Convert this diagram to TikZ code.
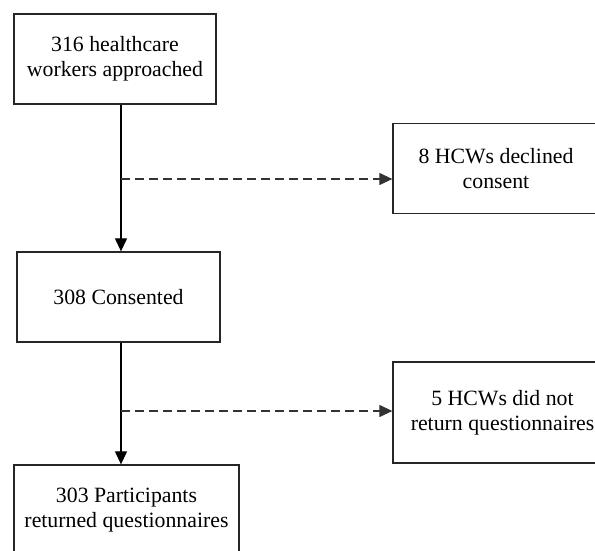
\documentclass[tikz,border=0pt]{standalone}
\usepackage{fontspec}
\setmainfont{Liberation Serif}
\usetikzlibrary{arrows.meta, positioning}

\begin{document}
\begin{tikzpicture}[
    x=1pt, y=-1pt,
    font=\fontsize{21.8}{25}\selectfont,
    box/.style={rectangle, draw=black!85, line width=1.3pt, fill=white,
                minimum width=#1, minimum height=90pt,
                align=center, inner sep=0pt},
    arr/.style={-{Triangle[length=13pt, width=12pt]}, line width=1.2pt},
    exc/.style={-{Triangle[length=13pt, width=12pt]}, line width=1.2pt,
                dash pattern=on 9pt off 5pt, black!80},
  ]
  \clip (0,0) rectangle (595,550);

  \node[box=202pt] (appr) at (115,59)    {316 healthcare\\workers approached};
  \node[box=206pt] (decl) at (496,168.5) {8 HCWs declined\\consent};
  \node[box=203pt] (cons) at (118.5,297) {308 Consented};
  \node[box=219pt, minimum height=101pt] (noret) at (502.5,412.5)
                                         {5 HCWs did not\\return questionnaires};
  \node[box=225pt] (part) at (126.5,510) {303 Participants\\returned questionnaires};

  % branch points on the main line
  \coordinate (b1) at (121,179);
  \coordinate (b2) at (121,411);

  \draw[arr] (appr.south -| b1) -- (cons.north -| b1);
  \draw[arr] (cons.south -| b2) -- (part.north -| b2);

  \draw[exc] (b1) -- (b1 -| decl.west);
  \draw[exc] (b2) -- (b2 -| noret.west);

\end{tikzpicture}
\end{document}
